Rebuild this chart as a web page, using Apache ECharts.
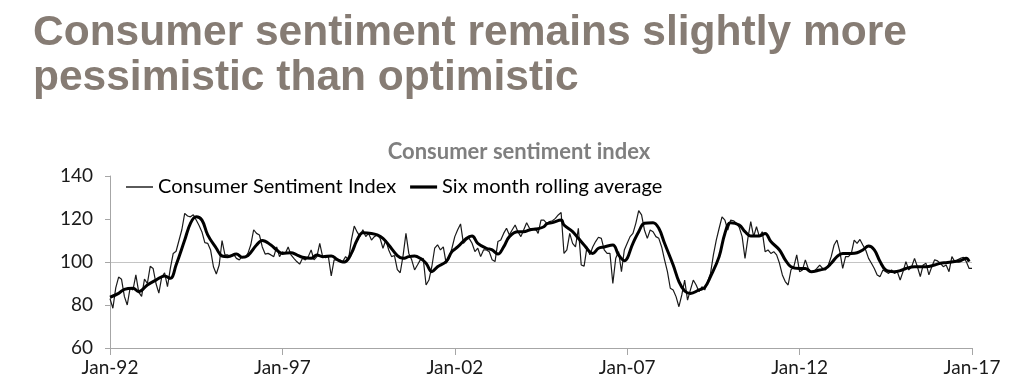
<!DOCTYPE html>
<html><head><meta charset="utf-8">
<script src="https://cdn.jsdelivr.net/npm/echarts@6/dist/echarts.min.js"></script>
<style>html,body{margin:0;padding:0;background:#fff}#c{width:1024px;height:390px}</style>
</head><body><div id="c"></div>
<script>
const tickLabels = ['Jan-92','Jan-97','Jan-02','Jan-07','Jan-12','Jan-17'];
const seriesNames = ['Consumer Sentiment Index','Six month rolling average'];
// Monthly index, Jan-92 .. Jan-17
const sentiment = [
 83, 78.5, 88, 93, 92, 84, 80, 88, 87, 94,
 86, 84, 92, 90, 98, 97, 90, 85.5, 93, 95,
 88.5, 97, 104, 105, 110, 115, 122.6, 121.4, 121, 122,
 119.5, 117, 114, 109, 108.7, 105.6, 97.8, 94.4, 98.6, 110,
 103.3, 103.3, 102.5, 103.7, 101.7, 101, 102.5, 102, 104, 108,
 115, 113.3, 112.6, 107, 103.7, 104, 103.3, 102.5, 107, 102.5,
 104.8, 104, 107, 103.3, 101.7, 100.2, 99, 101.7, 101, 102.5,
 105.6, 101, 102.5, 108.7, 102.5, 102, 102.5, 93.5, 101, 101,
 101, 100.2, 102.5, 101, 110.2, 116.7, 114, 111.8, 115, 111.8,
 113.3, 110.2, 111.8, 112.6, 111, 106.4, 110.2, 105.6, 102.5, 103,
 96.5, 95, 103, 113.3, 104, 101, 96.3, 98.6, 101, 101.7,
 89.3, 91.6, 97.8, 106.4, 108, 105.6, 107, 99.4, 101.7, 106.4,
 111.8, 115, 117.7, 108.7, 110.2, 111, 108.7, 104.8, 106.4, 102.5,
 105.6, 105.6, 104.8, 101, 100.2, 109.5, 110.2, 113.3, 115.7, 112.6,
 115, 117.2, 114, 111.8, 115, 118.3, 115.7, 115.2, 115.7, 113.3,
 119.5, 119.5, 118, 118.8, 119.2, 120.3, 121.9, 123, 104, 105.6,
 113.3, 108.7, 107, 115.7, 98.6, 98.1, 107, 103.3, 107, 109.5,
 111.5, 111, 105.6, 104, 104, 90, 101.7, 104.8, 95.5, 105.6,
 108.7, 111.8, 113.3, 118, 123.9, 121.9, 114.9, 111, 114.9, 114.1,
 111.8, 111, 107, 101, 95.5, 87.8, 87, 83.9, 79.2, 84.7,
 91.6, 82.3, 87, 91.6, 89.3, 86.2, 88.5, 87, 91, 94.7,
 103.3, 110.2, 115.7, 121, 119.5, 114.9, 119.5, 119.2, 118, 116.1,
 111.8, 101.7, 111, 118.8, 111.8, 116.4, 111.8, 114.1, 104.8, 105.6,
 104, 104.8, 103.3, 99.4, 94, 90.9, 89.3, 96.3, 97.8, 103.3,
 95.5, 96.3, 101, 97, 95.5, 95.5, 97, 98.6, 97, 96.3,
 98.6, 102.5, 107.9, 110.2, 104.8, 97, 102.5, 102.5, 104, 110.2,
 108.7, 110.5, 107.9, 105.6, 101.7, 99.4, 97, 94, 93.2, 96.3,
 95.5, 94.7, 96.3, 94.7, 95.5, 91.6, 95.5, 100.2, 96.3, 97.8,
 101.7, 97.8, 93.2, 98.6, 99.4, 94, 97.8, 101, 100.5, 99.4,
 97.8, 98.6, 95.5, 102.5, 100.2, 101, 101.7, 102.2, 100.2, 97,
 97
];
// Six month rolling average, read at these month indexes
const avgMonths = [0,3,5,8,10,13,16,19,21,23,26,28,30,32,34,37,39,41,44,46,48,51,53,56,58,60,63,65,67,70,72,74,77,79,81,82,84,86,88,91,93,95,97,100,102,104,106,108,110,112,114,117,119,121,124,126,128,131,133,135,137,139,142,144,146,149,151,152,154,157,158,161,163,165,168,170,172,175,177,179,182,184,186,189,191,193,196,198,200,202,205,207,209,212,214,216,219,221,223,226,228,230,233,235,237,240,242,244,247,249,251,253,255,258,260,262,264,266,268,270,273,275,277,280,282,284,287,289,291,294,296,298,299];
const avgValues = [83.6,85.4,87.3,87.8,86.2,89.3,91.6,93.5,92.4,98.6,110.2,118,121,119.5,112.6,106.4,102.8,102.5,103.7,102.2,103,107.9,110,107.9,105.6,104,104.3,103.3,102.2,101.7,103.3,102.5,102.8,101.2,100,100.2,104,110.2,113.6,113.3,112.6,111,107.9,103,101.7,102.5,102.8,101.7,99.4,95.5,97.8,100.2,104.8,107,111,112.1,108.7,106.4,105.6,103.7,107,111.8,114.1,114.1,114.9,115.5,116.4,117.7,118.3,119.5,117.2,114.1,111,107.9,104,106.4,107,107.9,103.3,100.6,108.7,114.1,118,118.3,115.7,108.7,98.6,90.9,86.5,85.4,87,88.2,93.2,102.5,113.3,118.3,117.2,114.1,112.1,112.1,113.3,109.5,105.6,101,97.8,97,97,95.5,96.3,97,99.4,102.5,104,104,104.3,105.6,107.4,105.6,100.2,96.3,95.5,96,97,97.8,97.8,97.8,98.6,99.4,99.7,100.2,100.6,101.7,100.2];

const chart = echarts.init(document.getElementById('c'), null, {renderer: 'canvas'});
const labelFont = 'Lato';
chart.setOption({
  backgroundColor: '#ffffff',
  animation: false,
  title: [
    {
      text: 'Consumer sentiment remains slightly more\npessimistic than optimistic',
      left: 33, top: 11, padding: 0,
      textStyle: {fontFamily: 'Liberation Sans', fontWeight: 'bold', fontSize: 42.5, lineHeight: 45, color: '#867c74'}
    },
    {
      text: 'Consumer sentiment index',
      left: 519, top: 141, padding: 0, textAlign: 'center',
      textStyle: {fontFamily: labelFont, fontWeight: 'bold', fontSize: 22, color: '#7f7f7f'}
    }
  ],
  legend: {
    data: [
      {name: seriesNames[0], icon: 'path://M0,0 L27,0 L27,1.3 L0,1.3 Z'},
      {name: seriesNames[1], icon: 'path://M0,0 L27,0 L27,3.2 L0,3.2 Z'}
    ],
    left: 126, top: 177, padding: 0,
    itemWidth: 27, itemHeight: 14, itemGap: 14,
    itemStyle: {color: '#000', borderWidth: 0},
    lineStyle: {width: 0},
    textStyle: {fontFamily: labelFont, fontSize: 20, color: '#000'}
  },
  grid: {left: 110, right: 52, top: 176, bottom: 42},
  xAxis: {
    type: 'value', min: 0, max: 300, interval: 60,
    axisLine: {show: true, lineStyle: {color: '#a6a6a6', width: 1}},
    axisTick: {show: true, length: 7, lineStyle: {color: '#a6a6a6'}},
    splitLine: {show: false},
    axisLabel: {
      margin: 10, fontFamily: labelFont, fontSize: 19, color: '#1a1a1a',
      formatter: v => tickLabels[Math.round(v / 60)]
    }
  },
  yAxis: {
    type: 'value', min: 60, max: 140, interval: 20,
    axisLine: {show: true, lineStyle: {color: '#a6a6a6', width: 1}},
    axisTick: {show: true, length: 5, lineStyle: {color: '#a6a6a6'}},
    axisLabel: {margin: 17, fontFamily: labelFont, fontSize: 19, color: '#1a1a1a'},
    splitLine: {show: true, lineStyle: {color: ['rgba(0,0,0,0)','rgba(0,0,0,0)','#c4c4c4','rgba(0,0,0,0)','rgba(0,0,0,0)'], width: 1}}
  },
  series: [
    {
      name: seriesNames[0], type: 'line', showSymbol: false, symbol: 'none',
      data: sentiment.map((v, i) => [i, v]),
      lineStyle: {color: '#1a1a1a', width: 1.2},
      itemStyle: {color: '#1a1a1a'}
    },
    {
      name: seriesNames[1], type: 'line', showSymbol: false, symbol: 'none', smooth: 0.4,
      data: avgMonths.map((m, i) => [m, avgValues[i]]),
      lineStyle: {color: '#000', width: 3},
      itemStyle: {color: '#000'}
    }
  ]
});
</script>
</body></html>
